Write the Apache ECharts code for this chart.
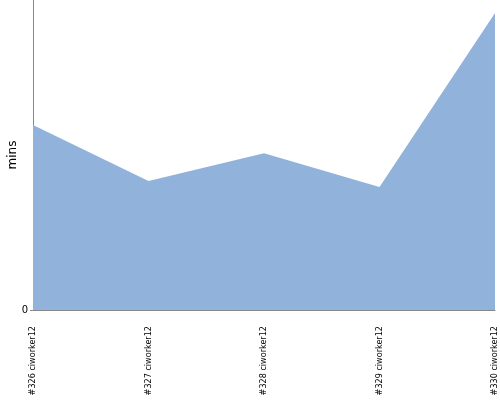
<!DOCTYPE html>
<html>
<head>
<meta charset="utf-8">
<script src="https://cdn.jsdelivr.net/npm/echarts@6/dist/echarts.min.js"></script>
<style>html,body{margin:0;padding:0;background:#fff}#c{width:500px;height:400px}</style>
</head>
<body>
<div id="c"></div>
<script>
var categories = ["#326 ciworker12", "#327 ciworker12", "#328 ciworker12", "#329 ciworker12", "#330 ciworker12"];
var durations = [5.97, 4.16, 5.06, 3.97, 9.58];
var yTicks = [0];

var chart = echarts.init(document.getElementById('c'), null, {renderer: 'canvas'});
chart.setOption({
  animation: false,
  grid: {left: 33, right: 5, top: 0, bottom: 90, containLabel: false, outerBoundsMode: 'none'},
  xAxis: {
    type: 'category',
    data: categories,
    boundaryGap: false,
    axisLine: {lineStyle: {color: '#888', width: 1}},
    axisTick: {show: false},
    axisLabel: {rotate: 90, margin: 16, fontSize: 9, color: '#000', fontFamily: 'DejaVu Sans Condensed', interval: 0}
  },
  yAxis: {
    type: 'value',
    min: 0, max: 10, interval: 10,
    name: 'mins',
    nameLocation: 'middle',
    nameGap: 14,
    nameMoveOverlap: false,
    nameTextStyle: {fontSize: 12, color: '#000', fontFamily: 'DejaVu Sans'},
    axisLine: {show: true, lineStyle: {color: '#888', width: 1}},
    axisTick: {show: true, length: 3, customValues: yTicks, lineStyle: {color: '#888'}},
    axisLabel: {customValues: yTicks, fontSize: 10, color: '#000', margin: 5, fontFamily: 'DejaVu Sans'},
    splitLine: {show: false}
  },
  series: [{
    type: 'line',
    data: durations,
    symbol: 'none',
    lineStyle: {width: 0},
    areaStyle: {color: '#91B3DB', opacity: 1}
  }]
});
</script>
</body>
</html>
